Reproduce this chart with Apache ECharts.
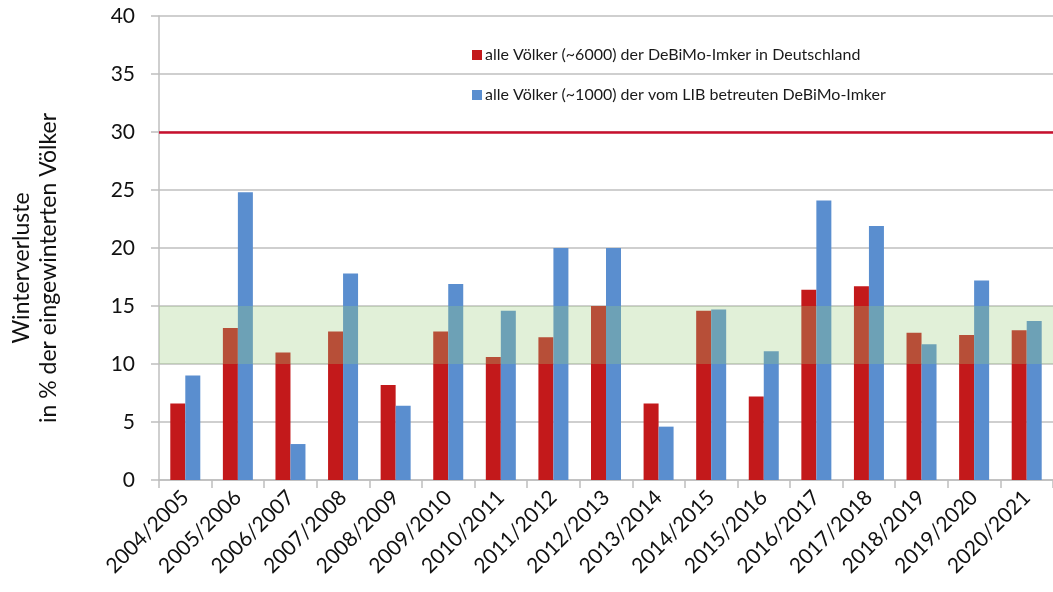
<!DOCTYPE html>
<html>
<head>
<meta charset="utf-8">
<script src="https://cdn.jsdelivr.net/npm/echarts@6/dist/echarts.min.js"></script>
<style>
  html, body { margin: 0; padding: 0; background: #fff; }
  #chart { width: 1053px; height: 592px; }
</style>
</head>
<body>
<div id="chart"></div>
<script>
const seasons = [
  '2004/2005', '2005/2006', '2006/2007', '2007/2008', '2008/2009', '2009/2010',
  '2010/2011', '2011/2012', '2012/2013', '2013/2014', '2014/2015', '2015/2016',
  '2016/2017', '2017/2018', '2018/2019', '2019/2020', '2020/2021',
]
const germanyLosses = [6.6, 13.1, 11.0, 12.8, 8.2, 12.8, 10.6, 12.3, 15.0, 6.6, 14.6, 7.2, 16.4, 16.7, 12.7, 12.5, 12.9]
const libLosses = [9.0, 24.8, 3.1, 17.8, 6.4, 16.9, 14.6, 20.0, 20.0, 4.6, 14.7, 11.1, 24.1, 21.9, 11.7, 17.2, 13.7]
const seriesNames = [
  'alle Völker (~6000) der DeBiMo-Imker in Deutschland',
  'alle Völker (~1000) der vom LIB betreuten DeBiMo-Imker',
]
const normalRange = [10, 15]
const alarmLevel = 30

const font = 'Lato, "Noto Sans", sans-serif'
const gridGrey = '#bfbfbf'

const chart = echarts.init(document.getElementById('chart'))
chart.setOption({
  animation: false,
  textStyle: { fontFamily: font },
  color: ['#c3191b', '#5a8ecf'],
  grid: { left: 152, top: 16, width: 909, bottom: 112, containLabel: false },
  legend: {
    data: seriesNames,
    orient: 'vertical',
    left: 467,
    top: 42,
    itemWidth: 10,
    itemHeight: 10,
    itemGap: 24,
    icon: 'rect',
    textStyle: { fontSize: 16, color: '#1a1a1a', padding: [0, 0, 0, -2] },
  },
  xAxis: {
    type: 'category',
    data: seasons,
    axisLine: { lineStyle: { color: gridGrey, width: 1.5 } },
    axisTick: { show: true, length: 8, lineStyle: { color: gridGrey, width: 1.5 } },
    axisLabel: { rotate: 45, fontSize: 21, color: '#111', margin: 14, interval: 0 },
  },
  yAxis: {
    type: 'value',
    min: 0,
    max: 40,
    interval: 5,
    name: 'Winterverluste\nin % der eingewinterten Völker',
    nameLocation: 'middle',
    nameGap: 97,
    nameTextStyle: { fontSize: 23, color: '#111', lineHeight: 27, padding: [0, 40, 0, 0] },
    axisLine: { show: true, lineStyle: { color: gridGrey, width: 1.5 } },
    axisTick: { show: true, length: 8, lineStyle: { color: gridGrey, width: 1.5 } },
    axisLabel: { fontSize: 21, color: '#111', margin: 24 },
    splitLine: { lineStyle: { color: gridGrey, width: 1.5 } },
  },
  series: [
    {
      name: seriesNames[0],
      type: 'bar',
      data: germanyLosses,
      barWidth: 15,
      barGap: '0%',
    },
    {
      name: seriesNames[1],
      type: 'bar',
      data: libLosses,
      barWidth: 15,
      barGap: '0%',
    },
    {
      // overlay: green band and red alarm line drawn above the bars
      name: 'overlay',
      type: 'line',
      data: [],
      z: 5,
      silent: true,
      markArea: {
        silent: true,
        z: 5,
        itemStyle: { color: 'rgba(155, 205, 125, 0.3)' },
        data: [[{ yAxis: normalRange[0] }, { yAxis: normalRange[1] }]],
      },
      markLine: {
        silent: true,
        symbol: 'none',
        label: { show: false },
        lineStyle: { color: '#c8102e', width: 2.5, type: 'solid' },
        data: [{ yAxis: alarmLevel }],
      },
    },
  ],
})
</script>
</body>
</html>
